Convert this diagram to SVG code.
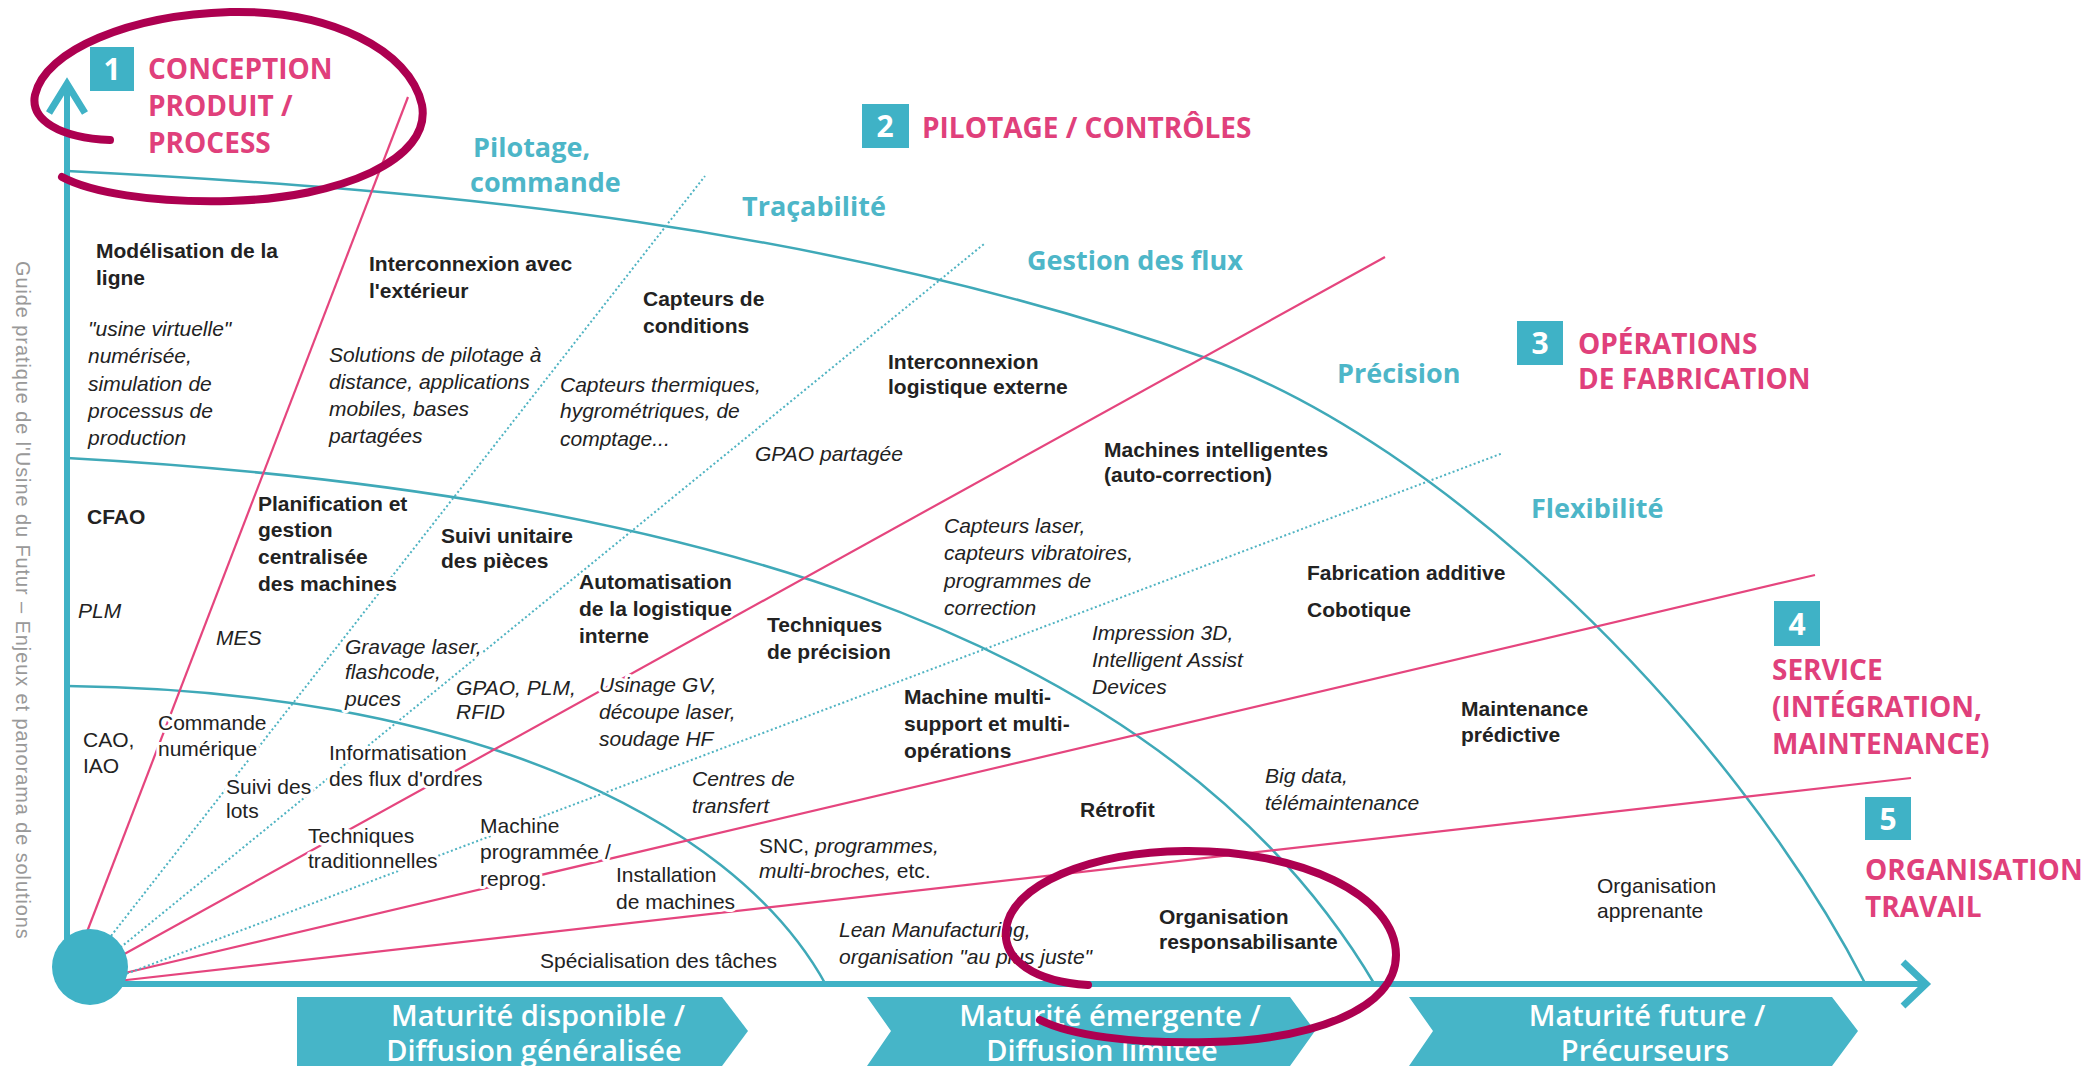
<svg xmlns="http://www.w3.org/2000/svg" width="2096" height="1066" viewBox="0 0 2096 1066">
<style>
.t{font-family:"Liberation Sans",Arial,sans-serif;font-size:21px;fill:#222;stroke:#fff;stroke-width:6px;paint-order:stroke;stroke-linejoin:round}
.b{font-weight:bold}
.i{font-style:italic}
.h{font-family:"Open Sans","Noto Sans",sans-serif;font-weight:700;font-size:28px;fill:#e0407b}
.c{font-family:"Open Sans","Noto Sans",sans-serif;font-weight:700;font-size:27px;fill:#4db6c8}
.num{font-family:"Open Sans","Noto Sans",sans-serif;font-weight:700;font-size:30px;fill:#fff;text-anchor:middle}
.box{fill:#3fb2c6}
.curve{fill:none;stroke:#3fa9b8;stroke-width:2.5}
.pk{stroke:#e5457e;stroke-width:2.2;fill:none}
.dt{stroke:#4fb3c2;stroke-width:2;stroke-dasharray:2 2.5;fill:none}
.ax{stroke:#3fb2c6;stroke-width:6;fill:none}
.arr{stroke:#3fb2c6;stroke-width:7;fill:none}
.mat{fill:#46b5c8}
.mt{font-family:"Open Sans","Noto Sans",sans-serif;font-weight:600;font-size:29px;fill:#fff;text-anchor:middle}
.ell{fill:none;stroke:#ad0050;stroke-width:8;stroke-linecap:round}
.side{font-family:"Liberation Sans",Arial,sans-serif;font-size:20px;fill:#999;letter-spacing:0.9px}
</style>
<rect width="2096" height="1066" fill="#fff"/>

<g id="connectors">
  <path class="curve" d="M67,171 C447,190 826,225 1206,358 C1440,440 1730,720 1866,985"/>
  <path class="curve" d="M67,458 C650,490 1160,620 1375,985"/>
  <path class="curve" d="M67,686 C450,690 730,810 826,985"/>
  <line class="pk" x1="80" y1="950" x2="408" y2="97"/>
  <line class="pk" x1="90" y1="973" x2="1385" y2="257"/>
  <line class="pk" x1="95" y1="980" x2="1815" y2="575"/>
  <line class="pk" x1="100" y1="983" x2="1911" y2="778"/>
  <line class="dt" x1="100" y1="950" x2="705" y2="176"/>
  <line class="dt" x1="110" y1="956" x2="984" y2="244"/>
  <line class="dt" x1="110" y1="980" x2="1503" y2="453"/>
  <line class="ax" x1="67" y1="88" x2="67" y2="967"/>
  <polyline class="arr" points="49,113 67,84 85,113"/>
  <line class="ax" x1="90" y1="984" x2="1924" y2="984"/>
  <polyline class="arr" points="1903,962 1926,984 1903,1006"/>
</g>

<g id="origin"><circle cx="90" cy="967" r="38" fill="#3fb2c6"/></g>

<g id="side-title"><text class="side" transform="translate(16,261) rotate(90)">Guide pratique de l'Usine du Futur – Enjeux et panorama de solutions</text></g>

<g id="cat1">
  <rect class="box" x="90" y="47" width="44" height="44"/><text class="num" x="112" y="80">1</text>
  <text class="h"><tspan x="148" y="79">CONCEPTION</tspan><tspan x="148" y="116">PRODUIT /</tspan><tspan x="148" y="153">PROCESS</tspan></text>
</g>
<g id="cat2">
  <rect class="box" x="862" y="104" width="47" height="44"/><text class="num" x="885" y="137">2</text>
  <text class="h" x="922" y="138">PILOTAGE / CONTRÔLES</text>
</g>
<g id="cat3">
  <rect class="box" x="1517" y="321" width="46" height="44"/><text class="num" x="1540" y="354">3</text>
  <text class="h"><tspan x="1578" y="354">OPÉRATIONS</tspan><tspan x="1578" y="389">DE FABRICATION</tspan></text>
</g>
<g id="cat4">
  <rect class="box" x="1774" y="601" width="46" height="45"/><text class="num" x="1797" y="635">4</text>
  <text class="h"><tspan x="1772" y="680">SERVICE</tspan><tspan x="1772" y="717">(INTÉGRATION,</tspan><tspan x="1772" y="754">MAINTENANCE)</tspan></text>
</g>
<g id="cat5">
  <rect class="box" x="1865" y="797" width="46" height="43"/><text class="num" x="1888" y="830">5</text>
  <text class="h"><tspan x="1865" y="880">ORGANISATION</tspan><tspan x="1865" y="917">TRAVAIL</tspan></text>
</g>

<g id="axis-labels">
  <text class="c"><tspan x="473" y="157">Pilotage,</tspan><tspan x="470" y="192">commande</tspan></text>
  <text class="c" x="742" y="216">Traçabilité</text>
  <text class="c" x="1027" y="270">Gestion des flux</text>
  <text class="c" x="1337" y="383">Précision</text>
  <text class="c" x="1531" y="518">Flexibilité</text>
</g>

<g id="n-modelisation"><text class="t b"><tspan x="96" y="258">Modélisation de la</tspan><tspan x="96" y="285">ligne</tspan></text>
<text class="t i"><tspan x="88" y="336">"usine virtuelle"</tspan><tspan x="88" y="363">numérisée,</tspan><tspan x="88" y="391">simulation de</tspan><tspan x="88" y="418">processus de</tspan><tspan x="88" y="445">production</tspan></text></g>
<g id="n-cfao"><text class="t b" x="87" y="524">CFAO</text><text class="t i" x="78" y="618">PLM</text></g>
<g id="n-mes"><text class="t i" x="216" y="645">MES</text></g>
<g id="n-cao"><text class="t"><tspan x="83" y="747">CAO,</tspan><tspan x="83" y="773">IAO</tspan></text></g>
<g id="n-commande"><text class="t"><tspan x="158" y="730">Commande</tspan><tspan x="158" y="756">numérique</tspan></text></g>
<g id="n-suivi-lots"><text class="t"><tspan x="226" y="794">Suivi des</tspan><tspan x="226" y="818">lots</tspan></text></g>
<g id="n-tech-trad"><text class="t"><tspan x="308" y="843">Techniques</tspan><tspan x="308" y="868">traditionnelles</tspan></text></g>
<g id="n-informatisation"><text class="t"><tspan x="329" y="760">Informatisation</tspan><tspan x="329" y="786">des flux d'ordres</tspan></text></g>
<g id="n-machine-prog"><text class="t"><tspan x="480" y="833">Machine</tspan><tspan x="480" y="859">programmée /</tspan><tspan x="480" y="886">reprog.</tspan></text></g>

<g id="n-interconnexion-ext"><text class="t b"><tspan x="369" y="271">Interconnexion avec</tspan><tspan x="369" y="298">l'extérieur</tspan></text>
<text class="t i"><tspan x="329" y="362">Solutions de pilotage à</tspan><tspan x="329" y="389">distance, applications</tspan><tspan x="329" y="416">mobiles, bases</tspan><tspan x="329" y="443">partagées</tspan></text></g>
<g id="n-planification"><text class="t b"><tspan x="258" y="511">Planification et</tspan><tspan x="258" y="537">gestion</tspan><tspan x="258" y="564">centralisée</tspan><tspan x="258" y="591">des machines</tspan></text></g>
<g id="n-suivi-unitaire"><text class="t b"><tspan x="441" y="543">Suivi unitaire</tspan><tspan x="441" y="568">des pièces</tspan></text></g>
<g id="n-gravage"><text class="t i"><tspan x="345" y="654">Gravage laser,</tspan><tspan x="345" y="679">flashcode,</tspan><tspan x="345" y="706">puces</tspan></text></g>
<g id="n-gpao-plm"><text class="t i"><tspan x="456" y="695">GPAO, PLM,</tspan><tspan x="456" y="719">RFID</tspan></text></g>

<g id="n-capteurs-cond"><text class="t b"><tspan x="643" y="306">Capteurs de</tspan><tspan x="643" y="333">conditions</tspan></text>
<text class="t i"><tspan x="560" y="392">Capteurs thermiques,</tspan><tspan x="560" y="418">hygrométriques, de</tspan><tspan x="560" y="446">comptage...</tspan></text></g>
<g id="n-gpao-part"><text class="t i" x="755" y="461">GPAO partagée</text></g>
<g id="n-automatisation"><text class="t b"><tspan x="579" y="589">Automatisation</tspan><tspan x="579" y="616">de la logistique</tspan><tspan x="579" y="643">interne</tspan></text></g>
<g id="n-usinage"><text class="t i"><tspan x="599" y="692">Usinage GV,</tspan><tspan x="599" y="719">découpe laser,</tspan><tspan x="599" y="746">soudage HF</tspan></text></g>
<g id="n-tech-precision"><text class="t b"><tspan x="767" y="632">Techniques</tspan><tspan x="767" y="659">de précision</tspan></text></g>
<g id="n-centres"><text class="t i"><tspan x="692" y="786">Centres de</tspan><tspan x="692" y="813">transfert</tspan></text></g>
<g id="n-installation"><text class="t"><tspan x="616" y="882">Installation</tspan><tspan x="616" y="909">de machines</tspan></text></g>
<g id="n-specialisation"><text class="t" x="540" y="968">Spécialisation des tâches</text></g>
<g id="n-snc"><text class="t"><tspan x="759" y="853">SNC, <tspan class="i">programmes,</tspan></tspan><tspan x="759" y="878"><tspan class="i">multi-broches,</tspan> etc.</tspan></text></g>

<g id="n-interconnexion-log"><text class="t b"><tspan x="888" y="369">Interconnexion</tspan><tspan x="888" y="394">logistique externe</tspan></text></g>
<g id="n-machines-intel"><text class="t b"><tspan x="1104" y="457">Machines intelligentes</tspan><tspan x="1104" y="482">(auto-correction)</tspan></text></g>
<g id="n-capteurs-laser"><text class="t i"><tspan x="944" y="533">Capteurs laser,</tspan><tspan x="944" y="560">capteurs vibratoires,</tspan><tspan x="944" y="588">programmes de</tspan><tspan x="944" y="615">correction</tspan></text></g>
<g id="n-machine-multi"><text class="t b"><tspan x="904" y="704">Machine multi-</tspan><tspan x="904" y="731">support et multi-</tspan><tspan x="904" y="758">opérations</tspan></text></g>
<g id="n-impression"><text class="t i"><tspan x="1092" y="640">Impression 3D,</tspan><tspan x="1092" y="667">Intelligent Assist</tspan><tspan x="1092" y="694">Devices</tspan></text></g>
<g id="n-fabrication"><text class="t b" x="1307" y="580">Fabrication additive</text><text class="t b" x="1307" y="617">Cobotique</text></g>
<g id="n-retrofit"><text class="t b" x="1080" y="817">Rétrofit</text></g>
<g id="n-lean"><text class="t i"><tspan x="839" y="937">Lean Manufacturing,</tspan><tspan x="839" y="964">organisation "au plus juste"</tspan></text></g>
<g id="n-org-resp"><text class="t b"><tspan x="1159" y="924">Organisation</tspan><tspan x="1159" y="949">responsabilisante</tspan></text></g>
<g id="n-bigdata"><text class="t i"><tspan x="1265" y="783">Big data,</tspan><tspan x="1265" y="810">télémaintenance</tspan></text></g>
<g id="n-maintenance"><text class="t b"><tspan x="1461" y="716">Maintenance</tspan><tspan x="1461" y="742">prédictive</tspan></text></g>
<g id="n-org-app"><text class="t"><tspan x="1597" y="893">Organisation</tspan><tspan x="1597" y="918">apprenante</tspan></text></g>

<g id="maturity">
  <polygon class="mat" points="297,997 722,997 748,1031 722,1066 297,1066"/>
  <polygon class="mat" points="867,997 1290,997 1315,1031 1290,1066 867,1066 891,1031"/>
  <polygon class="mat" points="1409,997 1832,997 1858,1031 1832,1066 1409,1066 1433,1031"/>
  <text class="mt" x="538" y="1026">Maturité disponible /</text>
  <text class="mt" x="534" y="1061">Diffusion généralisée</text>
  <text class="mt" x="1110" y="1026">Maturité émergente /</text>
  <text class="mt" x="1102" y="1061">Diffusion limitée</text>
  <text class="mt" x="1647" y="1026">Maturité future /</text>
  <text class="mt" x="1645" y="1061">Précurseurs</text>
</g>

<g id="highlights">
  <path class="ell" d="M110,140 C60,138 30,120 35,95 C45,50 130,15 230,12 C330,10 410,50 422,105 C432,160 340,198 230,201 C150,203 90,192 62,177"/>
  <path class="ell" d="M1088,985 C1035,982 1003,960 1006,930 C1010,885 1090,852 1185,851 C1300,850 1396,895 1396,955 C1396,1010 1310,1040 1210,1042 C1130,1044 1070,1035 1040,1020"/>
</g>
</svg>
